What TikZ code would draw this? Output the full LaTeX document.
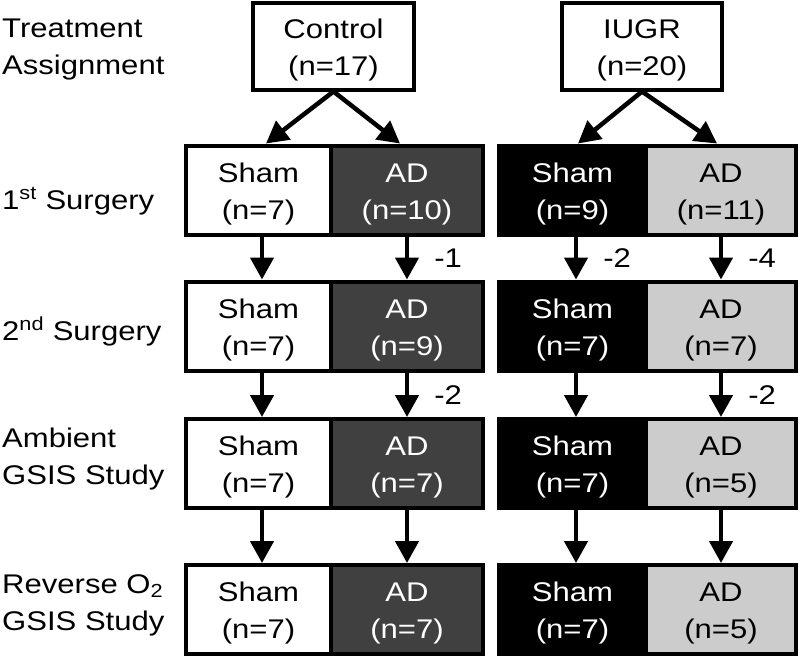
\documentclass[tikz,border=0pt]{standalone}
\usepackage{fontspec}
\setmainfont[FakeStretch=1.15]{Liberation Sans}
\usetikzlibrary{arrows.meta}
\definecolor{adctl}{HTML}{404040}
\definecolor{adiugr}{HTML}{CCCCCC}
\newcommand{\twoline}[2]{\rule{0pt}{27pt}#1\\#2}
\begin{document}
\begin{tikzpicture}[x=1pt, y=-1pt,
  every node/.style={font=\fontsize{27}{37}\selectfont},
  cell/.style={draw, line width=4pt, minimum height=89pt, inner sep=0pt, align=center},
  topbox/.style={draw, line width=4pt, minimum width=160.5pt, minimum height=87pt, inner sep=0pt, align=center, fill=white},
  lbl/.style={anchor=base west, inner sep=0pt},
  arr/.style={line width=4.5pt, -{Triangle[width=23pt,length=22pt]}},
  drop/.style={anchor=west, inner sep=0pt, xshift=25pt},
  shamC/.style={cell, fill=white, text=black, minimum width=145pt},
  adC/.style={cell, fill=adctl, text=white, minimum width=152pt},
  shamI/.style={cell, fill=black, text=white, minimum width=147pt},
  adI/.style={cell, fill=adiugr, text=black, minimum width=150pt}]
\useasboundingbox[fill=white] (0,0) rectangle (800,657);

% row labels
\node[lbl] (l0) at (2,37) {\begin{tabular}[t]{@{}l@{}}Treatment\\Assignment\end{tabular}};
\node[lbl] (l1) at (2,209) {1\textsuperscript{st} Surgery};
\node[lbl] (l2) at (2,340) {2\textsuperscript{nd} Surgery};
\node[lbl] (l3) at (2,447) {\begin{tabular}[t]{@{}l@{}}Ambient\\GSIS Study\end{tabular}};
\node[lbl] (l4) at (2,593) {\begin{tabular}[t]{@{}l@{}}Reverse O\textsubscript{2}\\GSIS Study\end{tabular}};

% treatment boxes
\node[topbox] (ctl) at (333.5,46) {\twoline{Control}{(n=17)}};
\node[topbox] (iugr) at (642,46) {\twoline{IUGR}{(n=20)}};

% row 1
\node[shamC] (c1s) at (258.5,190) {\twoline{Sham}{(n=7)}};
\node[adC]   (c1a) at (407,190)   {\twoline{AD}{(n=10)}};
\node[shamI] (i1s) at (572.5,190) {\twoline{Sham}{(n=9)}};
\node[adI]   (i1a) at (721,190)   {\twoline{AD}{(n=11)}};
% row 2
\node[shamC] (c2s) at (258.5,326) {\twoline{Sham}{(n=7)}};
\node[adC]   (c2a) at (407,326)   {\twoline{AD}{(n=9)}};
\node[shamI] (i2s) at (572.5,326) {\twoline{Sham}{(n=7)}};
\node[adI]   (i2a) at (721,326)   {\twoline{AD}{(n=7)}};
% row 3
\node[shamC] (c3s) at (258.5,463.5) {\twoline{Sham}{(n=7)}};
\node[adC]   (c3a) at (407,463.5)   {\twoline{AD}{(n=7)}};
\node[shamI] (i3s) at (572.5,463.5) {\twoline{Sham}{(n=7)}};
\node[adI]   (i3a) at (721,463.5)   {\twoline{AD}{(n=5)}};
% row 4
\node[shamC] (c4s) at (258.5,609.5) {\twoline{Sham}{(n=7)}};
\node[adC]   (c4a) at (407,609.5)   {\twoline{AD}{(n=7)}};
\node[shamI] (i4s) at (572.5,609.5) {\twoline{Sham}{(n=7)}};
\node[adI]   (i4a) at (721,609.5)   {\twoline{AD}{(n=5)}};

% assignment arrows
\draw[arr] (ctl.south) -- ([xshift=7.5pt]c1s.north);
\draw[arr] (ctl.south) -- ([xshift=-7pt]c1a.north);
\draw[arr] (iugr.south) -- ([xshift=5.5pt]i1s.north);
\draw[arr] (iugr.south) -- ([xshift=-4pt]i1a.north);

% row 1 -> 2
\draw[arr] ([xshift=3.5pt]c1s.south) -- ([xshift=3.5pt]c2s.north);
\draw[arr] (c1a.south) -- (c2a.north) node[midway, drop] {-1};
\draw[arr] ([xshift=3.5pt]i1s.south) -- ([xshift=3.5pt]i2s.north) node[midway, drop] {-2};
\draw[arr] (i1a.south) -- (i2a.north) node[midway, drop] {-4};
% row 2 -> 3
\draw[arr] ([xshift=3.5pt]c2s.south) -- ([xshift=3.5pt]c3s.north);
\draw[arr] (c2a.south) -- (c3a.north) node[midway, drop] {-2};
\draw[arr] ([xshift=3.5pt]i2s.south) -- ([xshift=3.5pt]i3s.north);
\draw[arr] (i2a.south) -- (i3a.north) node[midway, drop] {-2};
% row 3 -> 4
\draw[arr] ([xshift=3.5pt]c3s.south) -- ([xshift=3.5pt]c4s.north);
\draw[arr] (c3a.south) -- (c4a.north);
\draw[arr] ([xshift=3.5pt]i3s.south) -- ([xshift=3.5pt]i4s.north);
\draw[arr] (i3a.south) -- (i4a.north);
\end{tikzpicture}
\end{document}
